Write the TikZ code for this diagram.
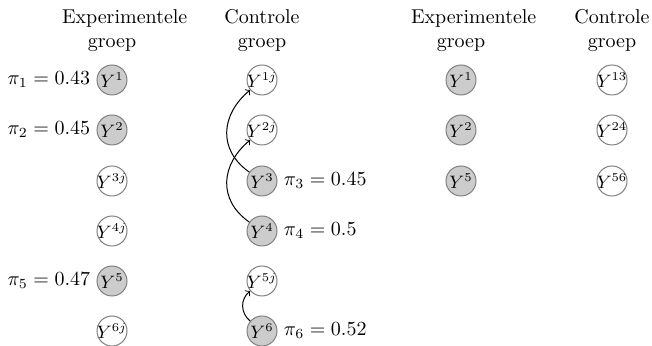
\documentclass[tikz,border=0pt]{standalone}
\begin{document}
\begin{tikzpicture}[x=0.5pt,y=-0.5pt,
  state/.style={circle,draw=gray,line width=0.5pt,inner sep=-1.2pt,minimum size=15pt,font=\small},
  expnode/.style={state,fill=gray!40},
  ctlnode/.style={state,fill=white},
  head/.style={text width=50pt,align=center,inner sep=0pt},
  lab/.style={inner sep=3pt},
  arr/.style={->,line width=0.5pt}]
\useasboundingbox (0,0) rectangle (652,346);
% headers
\node[head] (h1) at (112,31) {Experimentele groep};
\node[head] (h2) at (262,31) {Controle groep};
\node[head] (h3) at (461,31) {Experimentele groep};
\node[head] (h4) at (612,31) {Controle groep};
% left column
\node[expnode] (e1) at (112,80) {$Y^{1}$};
\node[expnode] (e2) at (112,130) {$Y^{2}$};
\node[ctlnode] (e3) at (112,181) {$Y^{3j}$};
\node[ctlnode] (e4) at (112,231) {$Y^{4j}$};
\node[expnode] (e5) at (112,281) {$Y^{5}$};
\node[ctlnode] (e6) at (112,331) {$Y^{6j}$};
% control column
\node[ctlnode] (c1) at (262,80) {$Y^{1j}$};
\node[ctlnode] (c2) at (262,130) {$Y^{2j}$};
\node[expnode] (c3) at (262,181) {$Y^{3}$};
\node[expnode] (c4) at (262,231) {$Y^{4}$};
\node[ctlnode] (c5) at (262,281) {$Y^{5j}$};
\node[expnode] (c6) at (262,331) {$Y^{6}$};
% labels
\node[lab,anchor=east] (p1) at (e1.west) {$\pi_1 = 0.43$};
\node[lab,anchor=east] (p2) at (e2.west) {$\pi_2 = 0.45$};
\node[lab,anchor=east] (p5) at (e5.west) {$\pi_5 = 0.47$};
\node[lab,anchor=west] (p3) at (c3.east) {$\pi_3 = 0.45$};
\node[lab,anchor=west] (p4) at (c4.east) {$\pi_4 = 0.5$};
\node[lab,anchor=west] (p6) at (c6.east) {$\pi_6 = 0.52$};
% arrows
\draw[arr] (c3) to[out=145,in=220,looseness=1.2] (c1);
\draw[arr] (c4) to[out=145,in=220,looseness=1.2] (c2);
\draw[arr] (c6) to[out=140,in=220,looseness=1.1] (c5);
% right part
\node[expnode] (r1) at (461,80) {$Y^{1}$};
\node[expnode] (r2) at (461,130) {$Y^{2}$};
\node[expnode] (r5) at (461,181) {$Y^{5}$};
\node[ctlnode] (s1) at (612,80) {$Y^{13}$};
\node[ctlnode] (s2) at (612,130) {$Y^{24}$};
\node[ctlnode] (s5) at (612,181) {$Y^{56}$};
\end{tikzpicture}
\end{document}
